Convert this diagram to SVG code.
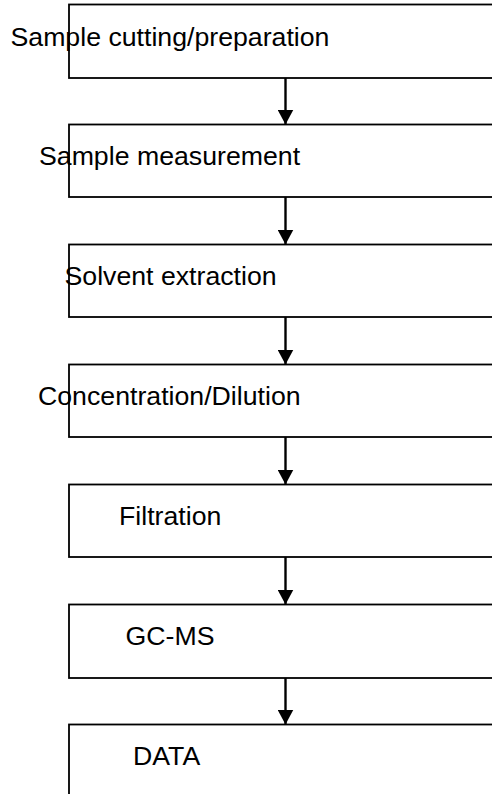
<svg xmlns="http://www.w3.org/2000/svg" width="492" height="794" viewBox="0 0 492 794">
<style>
.box{fill:#fff;stroke:#000;stroke-width:1.8}
.lbl{font-family:"Liberation Sans",Arial,sans-serif;font-size:26.7px;fill:#000}
.conn{stroke:#000;stroke-width:2.4;fill:none}
</style>
<defs>
<marker id="ah" markerUnits="userSpaceOnUse" markerWidth="16" markerHeight="16" refX="15" refY="8" orient="auto" viewBox="0 0 16 16">
<path d="M0,0 L15,8 L0,16 Z" fill="#000"/>
</marker>
</defs>
<rect width="492" height="794" fill="#fff"/>
<g id="n1"><rect class="box" x="69" y="4.5" width="500" height="73.5"/><text class="lbl" x="10.5" y="45.5">Sample cutting/preparation</text></g>
<g id="n2"><rect class="box" x="69" y="124.5" width="500" height="72.5"/><text class="lbl" x="39" y="165">Sample measurement</text></g>
<g id="n3"><rect class="box" x="69" y="244.5" width="500" height="72.5"/><text class="lbl" x="64.5" y="284.5">Solvent extraction</text></g>
<g id="n4"><rect class="box" x="69" y="364.5" width="500" height="72.5"/><text class="lbl" x="38" y="404.5">Concentration/Dilution</text></g>
<g id="n5"><rect class="box" x="69" y="484.5" width="500" height="72.5"/><text class="lbl" x="119" y="524.5">Filtration</text></g>
<g id="n6"><rect class="box" x="69" y="604.5" width="500" height="73.5"/><text class="lbl" x="125.5" y="644.5">GC-MS</text></g>
<g id="n7"><rect class="box" x="69" y="724.5" width="500" height="120"/><text class="lbl" x="133" y="764.5">DATA</text></g>
<g id="connectors">
<line class="conn" x1="285.5" y1="78" x2="285.5" y2="124.5" marker-end="url(#ah)"/>
<line class="conn" x1="285.5" y1="197" x2="285.5" y2="244.5" marker-end="url(#ah)"/>
<line class="conn" x1="285.5" y1="317" x2="285.5" y2="364.5" marker-end="url(#ah)"/>
<line class="conn" x1="285.5" y1="437" x2="285.5" y2="484.5" marker-end="url(#ah)"/>
<line class="conn" x1="285.5" y1="557" x2="285.5" y2="604.5" marker-end="url(#ah)"/>
<line class="conn" x1="285.5" y1="678" x2="285.5" y2="724.5" marker-end="url(#ah)"/>
</g>
</svg>
